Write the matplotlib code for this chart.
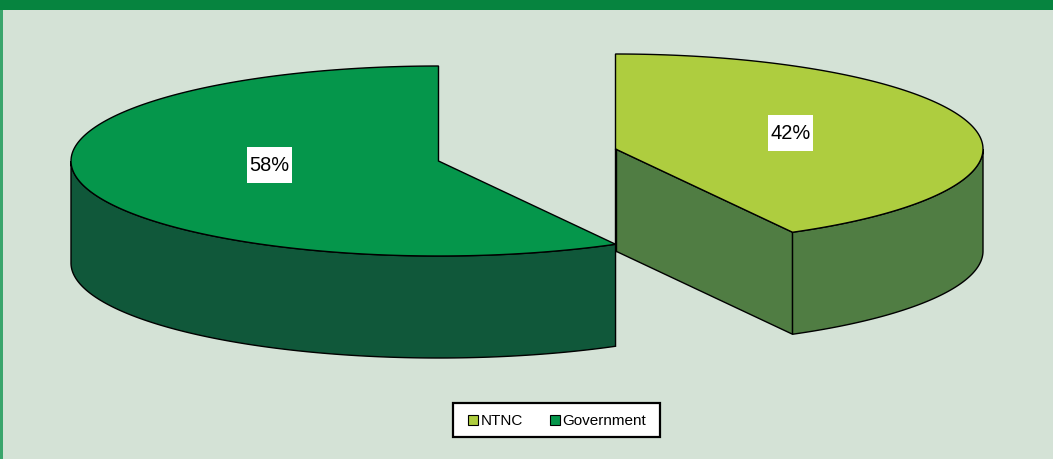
import numpy as np
import matplotlib
matplotlib.use('Agg')
import matplotlib.pyplot as plt
from matplotlib.patches import Polygon, Rectangle

labels = ['NTNC', 'Government']
shares = [42, 58]
slice_colors = ['#aecd3f', '#05964b']
wall_colors = ['#507d43', '#10583a']
bg_color = '#d4e2d6'
band_color = '#06843f'

W, H = 1053, 460
RX, RY, DEPTH = 367.5, 95, 102


def rim(cx, cy, a0, a1, n=200):
    # angles are clockwise from the top of the pie, in degrees
    t = np.radians(np.linspace(a0, a1, n))
    return np.column_stack([cx + RX * np.sin(t), cy - RY * np.cos(t)])


def draw_walls(ax, pts, color):
    low = pts + [0, DEPTH]
    ax.add_patch(Polygon(np.vstack([pts, low[::-1]]), closed=True, fc=color, ec='black', lw=1, joinstyle='miter'))


def draw_top(ax, cx, cy, a0, a1, color):
    pts = np.vstack([[cx, cy], rim(cx, cy, a0, a1)])
    ax.add_patch(Polygon(pts, closed=True, fc=color, ec='black', lw=1, joinstyle='miter'))


def draw_label(ax, x, y, text):
    # white box behind the percentage
    ax.add_patch(Rectangle((x - 22.5, y - 18), 45, 35.5, fc='white', ec='none', zorder=3))
    ax.text(x, y, text, ha='center', va='center', fontsize=14.4, family='Liberation Sans', zorder=4)


fig = plt.figure(figsize=(W / 100, H / 100), dpi=100, facecolor=bg_color)
ax = fig.add_axes([0, 0, 1, 1])
ax.set_xlim(-0.5, W - 0.5)
ax.set_ylim(H - 1, -1)
ax.axis('off')

# header band and thin left border
ax.add_patch(Rectangle((-1, -2), W + 2, 12, fc=band_color, ec='none'))
ax.add_patch(Rectangle((-1, 10), 3, H - 9, fc='#3aa56c', ec='none'))

# NTNC slice, pulled out to the right
sweep = 360 * shares[0] / sum(shares)
cx, cy = 615, 149
end = rim(cx, cy, sweep, sweep, 1)[0]
draw_walls(ax, np.array([[cx, cy], end]), wall_colors[0])
draw_walls(ax, rim(cx, cy, 90, sweep), wall_colors[0])
draw_top(ax, cx, cy, 0, sweep, slice_colors[0])
ax.plot([cx, cx], [cy, cy + DEPTH], color='black', lw=1)
draw_label(ax, 790, 133, f'{shares[0]}%')

# Government slice
cx, cy = 438, 161
draw_walls(ax, rim(cx, cy, sweep, 270), wall_colors[1])
draw_top(ax, cx, cy, sweep, 360, slice_colors[1])
draw_label(ax, 269, 165, f'{shares[1]}%')

# legend
ax.add_patch(Rectangle((452, 403), 207, 34, fc='white', ec='black', lw=1.6))
for x, name, color in zip([467, 549], labels, slice_colors):
    ax.add_patch(Rectangle((x, 415), 10, 10, fc=color, ec='black', lw=0.8))
    ax.text(x + 13, 420, name, ha='left', va='center', fontsize=11, family='Liberation Sans')

fig.savefig('out.png', dpi=100, facecolor=bg_color)
